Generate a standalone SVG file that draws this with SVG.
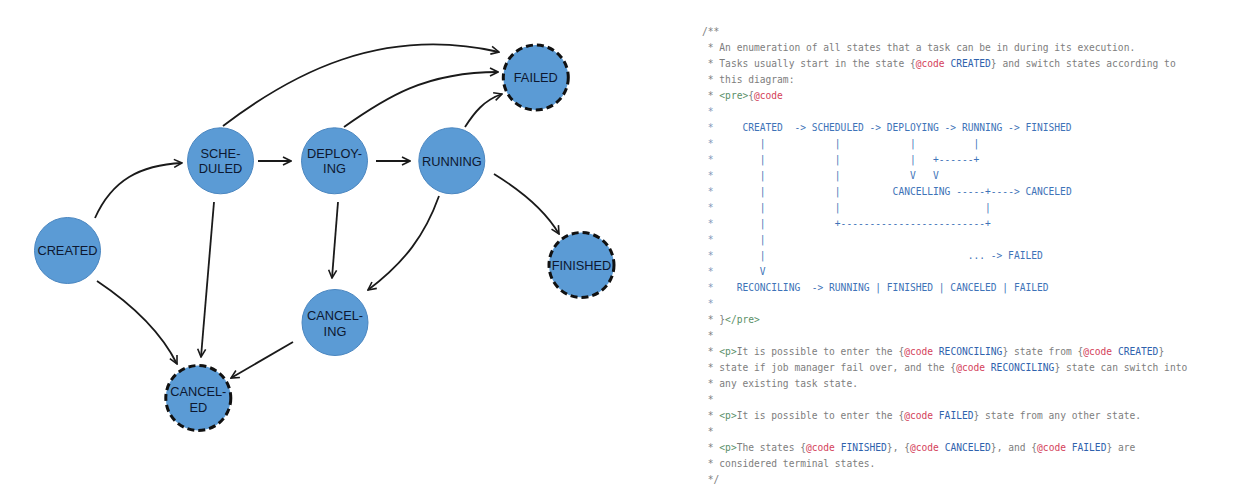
<svg xmlns="http://www.w3.org/2000/svg" width="1240" height="503" viewBox="0 0 1240 503">
<style>
.node{fill:#5b9bd5;stroke:#4a86c0;stroke-width:1}
.term{fill:#5b9bd5;stroke:#111;stroke-width:3;stroke-dasharray:7 4}
.lbl{font-family:"Liberation Sans",Arial,sans-serif;font-size:12.8px;fill:#0d1830;text-anchor:middle}
.edge{fill:none;stroke:#1a1a1a;stroke-width:1.8;marker-end:url(#arr)}
.c{font-family:"DejaVu Sans Mono",monospace;font-size:9.6px;fill:#7d7d7d;white-space:pre}
.k{fill:#d4415a}
.v{fill:#2f62ad}
.t{fill:#5a8f68}
.d{fill:#3e73b8}
.ds{fill:#7f95b8}
</style>
<defs>
<marker id="arr" viewBox="0 0 10 10" refX="9" refY="5" markerWidth="10" markerHeight="10" markerUnits="userSpaceOnUse" orient="auto">
<path d="M1,1 L9,5 L1,9" fill="none" stroke="#1a1a1a" stroke-width="1.6"/>
</marker>
</defs>
<rect width="1240" height="503" fill="#fff"/>
<g id="connectors">
<path class="edge" d="M95,218 C112,180 140,165 182,163"/>
<path class="edge" d="M258,161 L291,161"/>
<path class="edge" d="M376,161 L410,161"/>
<path class="edge" d="M223,126 C290,75 380,25 499,52"/>
<path class="edge" d="M344,127 C385,98 425,72 498,72"/>
<path class="edge" d="M465,127 C474,113 484,100 502,94"/>
<path class="edge" d="M494,174 C520,190 545,210 559,234"/>
<path class="edge" d="M439,196 C425,235 405,262 368,290"/>
<path class="edge" d="M338,202 L332,278"/>
<path class="edge" d="M214,202 L201,357"/>
<path class="edge" d="M97,281 C130,303 160,330 177,364"/>
<path class="edge" d="M293,342 L231,378"/>
</g>
<g id="node-created"><circle class="node" cx="67.5" cy="250.5" r="33"/><text class="lbl" x="67.5" y="255">CREATED</text></g>
<g id="node-scheduled"><circle class="node" cx="220.5" cy="160.8" r="33"/><text class="lbl" x="220.5" y="158.3">SCHE-</text><text class="lbl" x="220.5" y="173.3">DULED</text></g>
<g id="node-deploying"><circle class="node" cx="334.5" cy="160.8" r="33"/><text class="lbl" x="334.5" y="158.3">DEPLOY-</text><text class="lbl" x="334.5" y="173.3">ING</text></g>
<g id="node-running"><circle class="node" cx="451.8" cy="160.8" r="33"/><text class="lbl" x="451.8" y="165.5">RUNNING</text></g>
<g id="node-failed"><circle class="term" cx="535.8" cy="77.5" r="32.5"/><text class="lbl" x="535.8" y="82">FAILED</text></g>
<g id="node-finished"><circle class="term" cx="581.5" cy="265" r="32.5"/><text class="lbl" x="581.5" y="269.5">FINISHED</text></g>
<g id="node-canceling"><circle class="node" cx="335" cy="322.5" r="33"/><text class="lbl" x="335" y="320">CANCEL-</text><text class="lbl" x="335" y="335.5">ING</text></g>
<g id="node-canceled"><circle class="term" cx="198.3" cy="398" r="32.5"/><text class="lbl" x="198.3" y="396">CANCEL-</text><text class="lbl" x="198.3" y="411.5">ED</text></g>
<g id="code" xml:space="preserve">
<text class="c" x="702" y="35">/**</text>
<text class="c" x="702" y="51"> * An enumeration of all states that a task can be in during its execution.</text>
<text class="c" x="702" y="67"> * Tasks usually start in the state {<tspan class="k">@code</tspan> <tspan class="v">CREATED</tspan>} and switch states according to</text>
<text class="c" x="702" y="83"> * this diagram:</text>
<text class="c" x="702" y="99"> * <tspan class="t">&lt;pre&gt;</tspan>{<tspan class="k">@code</tspan></text>
<text class="c ds" x="702" y="115"> *</text>
<text class="c ds" x="702" y="131"> *</text><text class="c d" x="742.43" y="131">CREATED  -&gt; SCHEDULED -&gt; DEPLOYING -&gt; RUNNING -&gt; FINISHED</text>
<text class="c ds" x="702" y="147"> *</text><text class="c d" y="147"><tspan x="759.76">|</tspan><tspan x="834.85">|</tspan><tspan x="909.94">|</tspan><tspan x="973.47">|</tspan></text>
<text class="c ds" x="702" y="163"> *</text><text class="c d" y="163"><tspan x="759.76">|</tspan><tspan x="834.85">|</tspan><tspan x="909.94">|</tspan><tspan x="933.04">+------+</tspan></text>
<text class="c ds" x="702" y="179"> *</text><text class="c d" y="179"><tspan x="759.76">|</tspan><tspan x="834.85">|</tspan><tspan x="909.94">V</tspan><tspan x="933.04">V</tspan></text>
<text class="c ds" x="702" y="195"> *</text><text class="c d" y="195"><tspan x="759.76">|</tspan><tspan x="834.85">|</tspan><tspan x="892.61">CANCELLING -----+----&gt; CANCELED</tspan></text>
<text class="c ds" x="702" y="211"> *</text><text class="c d" y="211"><tspan x="759.76">|</tspan><tspan x="834.85">|</tspan><tspan x="985.02">|</tspan></text>
<text class="c ds" x="702" y="227"> *</text><text class="c d" y="227"><tspan x="759.76">|</tspan><tspan x="834.85">+-------------------------+</tspan></text>
<text class="c ds" x="702" y="243"> *</text><text class="c d" y="243"><tspan x="759.76">|</tspan></text>
<text class="c ds" x="702" y="259"> *</text><text class="c d" y="259"><tspan x="759.76">|</tspan><tspan x="967.70">... -&gt; FAILED</tspan></text>
<text class="c ds" x="702" y="275"> *</text><text class="c d" y="275"><tspan x="759.76">V</tspan></text>
<text class="c ds" x="702" y="291"> *</text><text class="c d" x="736.66" y="291">RECONCILING  -&gt; RUNNING | FINISHED | CANCELED | FAILED</text>
<text class="c ds" x="702" y="307"> *</text>
<text class="c" x="702" y="323"> * }<tspan class="t">&lt;/pre&gt;</tspan></text>
<text class="c" x="702" y="339"> *</text>
<text class="c" x="702" y="355"> * <tspan class="t">&lt;p&gt;</tspan>It is possible to enter the {<tspan class="k">@code</tspan> <tspan class="v">RECONCILING</tspan>} state from {<tspan class="k">@code</tspan> <tspan class="v">CREATED</tspan>}</text>
<text class="c" x="702" y="371"> * state if job manager fail over, and the {<tspan class="k">@code</tspan> <tspan class="v">RECONCILING</tspan>} state can switch into</text>
<text class="c" x="702" y="387"> * any existing task state.</text>
<text class="c" x="702" y="403"> *</text>
<text class="c" x="702" y="419"> * <tspan class="t">&lt;p&gt;</tspan>It is possible to enter the {<tspan class="k">@code</tspan> <tspan class="v">FAILED</tspan>} state from any other state.</text>
<text class="c" x="702" y="435"> *</text>
<text class="c" x="702" y="451"> * <tspan class="t">&lt;p&gt;</tspan>The states {<tspan class="k">@code</tspan> <tspan class="v">FINISHED</tspan>}, {<tspan class="k">@code</tspan> <tspan class="v">CANCELED</tspan>}, and {<tspan class="k">@code</tspan> <tspan class="v">FAILED</tspan>} are</text>
<text class="c" x="702" y="467"> * considered terminal states.</text>
<text class="c" x="702" y="483"> */</text>
</g>
</svg>
